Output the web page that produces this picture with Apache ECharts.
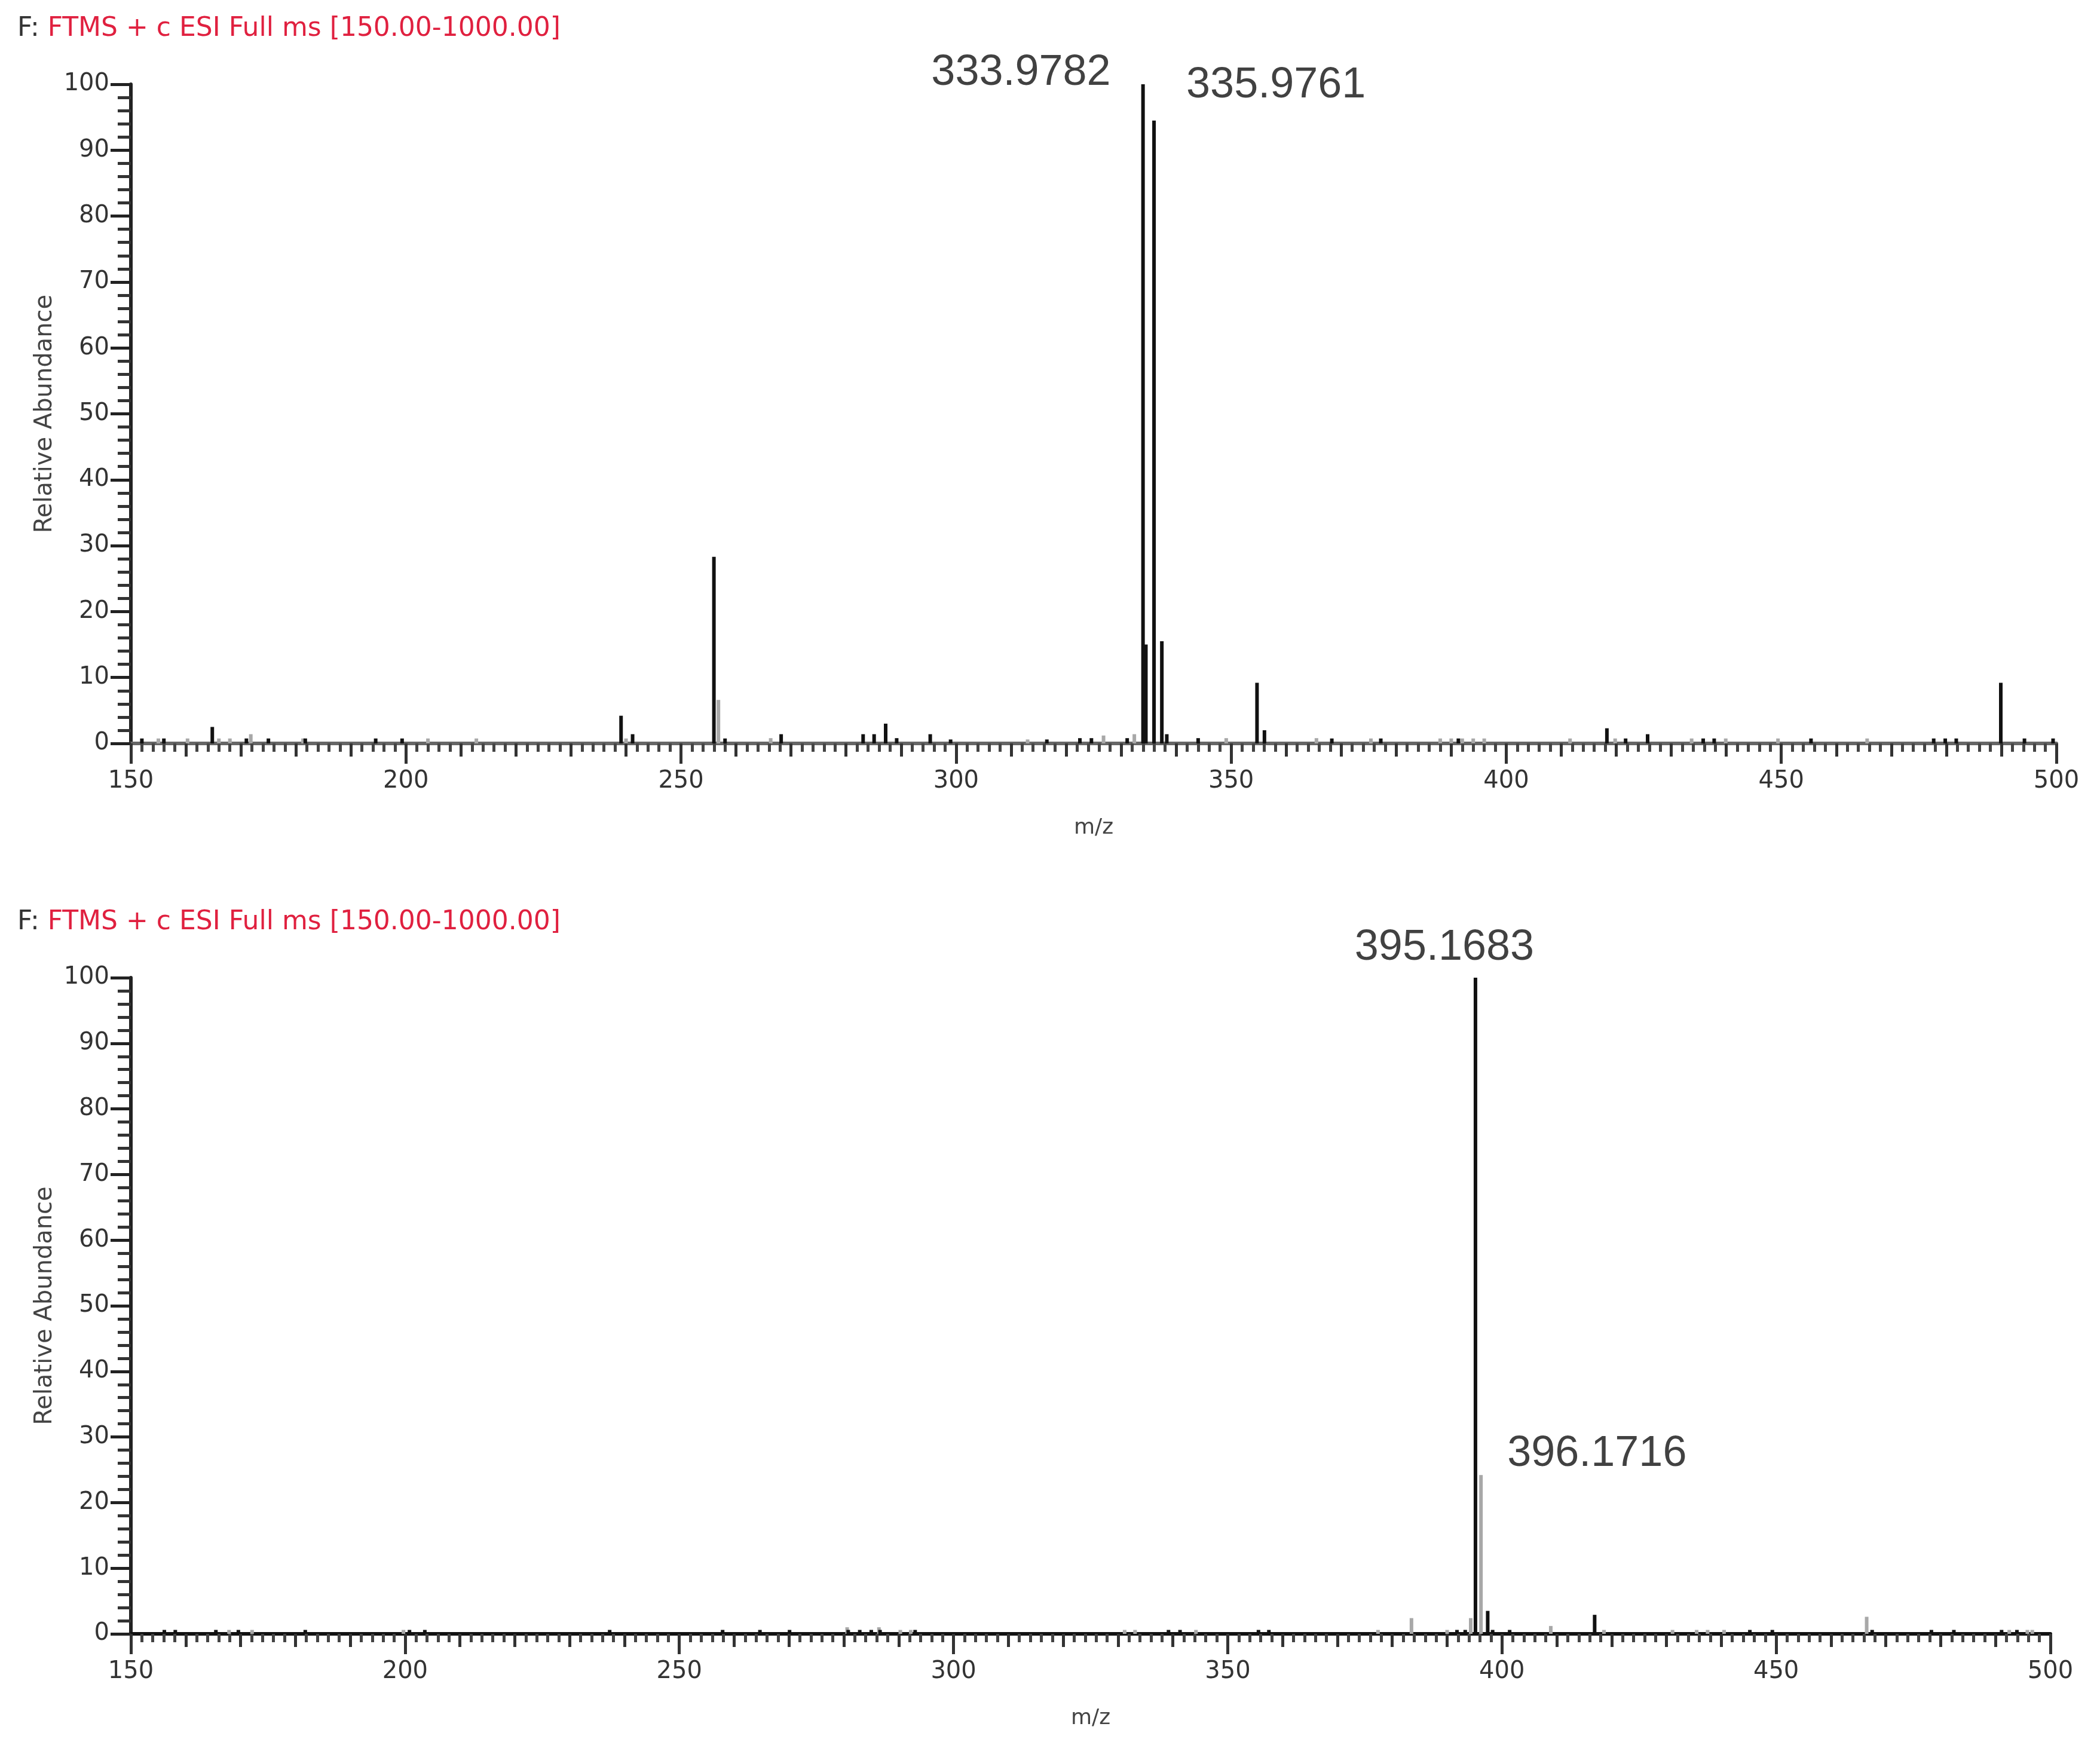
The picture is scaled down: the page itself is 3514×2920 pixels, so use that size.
<!DOCTYPE html>
<html>
<head>
<meta charset="UTF-8">
<title>FTMS + c ESI Full ms</title>
<script src="https://cdn.jsdelivr.net/npm/echarts@6/dist/echarts.min.js"></script>
<style>
    html, body { margin: 0; padding: 0; background: #fff; }
    #main { width: 3514px; height: 2920px; }
</style>
</head>
<body>
<div id="main"></div>
<script>
    // scan header shown above both spectra
    const scanTitle = 'FTMS + c ESI Full ms [150.00-1000.00]';
    const mzRange = [150, 500];
    const abRange = [0, 100];

    // top spectrum - dark sticks
    const mz1Dark = [152.0, 156.0, 164.8, 171.0, 175.0, 181.7, 194.5, 199.3, 239.1, 241.2,
        255.98, 258.0, 268.2, 283.1, 285.1, 287.2, 289.2, 295.3, 299.0, 316.5,
        322.5, 324.6, 331.1, 333.9782, 334.5, 335.9761, 337.4, 338.3, 344.0, 354.7,
        356.05, 368.3, 377.2, 391.3, 418.3, 421.7, 425.7, 435.8, 437.8, 455.4,
        477.7, 479.8, 481.8, 489.9, 494.2, 499.4];
    const ab1Dark = [0.75, 0.75, 2.5, 0.75, 0.75, 0.75, 0.75, 0.75, 4.2, 1.4,
        28.3, 0.75, 1.4, 1.4, 1.4, 3.0, 0.8, 1.4, 0.6, 0.6,
        0.8, 0.8, 0.8, 100, 15, 94.5, 15.5, 1.4, 0.8, 9.2,
        2.0, 0.75, 0.75, 0.75, 2.3, 0.75, 1.4, 0.75, 0.75, 0.75,
        0.75, 0.75, 0.75, 9.2, 0.75, 0.75];
    // top spectrum - grey sticks
    const mz1Light = [155.0, 160.3, 166.0, 168.0, 171.8, 181.3, 204.0, 212.8, 240.0, 256.8,
        266.3, 313.0, 326.8, 332.4, 349.1, 365.5, 375.4, 388.0, 390.0, 392.0,
        394.0, 396.0, 411.6, 419.8, 433.7, 439.9, 449.4, 465.6];
    const ab1Light = [0.75, 0.75, 0.75, 0.75, 1.4, 0.75, 0.75, 0.75, 0.75, 6.6,
        0.8, 0.6, 1.2, 1.4, 0.8, 0.8, 0.75, 0.75, 0.75, 0.75,
        0.75, 0.75, 0.75, 0.75, 0.75, 0.75, 0.75, 0.75];
    const mz1Labels = [333.9782, 335.9761];
    const ab1Labels = [100, 94.5];

    // bottom spectrum - dark sticks
    const mz2Dark = [156.1, 158.1, 165.5, 169.6, 181.8, 200.8, 203.6, 237.3, 257.9, 264.7,
        270.1, 280.8, 282.9, 285.0, 286.6, 293.0, 339.2, 341.3, 355.6, 357.5,
        391.8, 393.3, 395.1683, 397.4, 398.3, 401.4, 416.9, 445.2, 449.3, 467.5,
        478.3, 482.4, 491.1, 493.9];
    const ab2Dark = [0.6, 0.6, 0.6, 0.6, 0.6, 0.6, 0.6, 0.6, 0.6, 0.6,
        0.6, 0.6, 0.6, 0.6, 0.6, 0.6, 0.6, 0.6, 0.6, 0.6,
        0.6, 0.6, 100, 3.5, 0.6, 0.6, 2.9, 0.6, 0.6, 0.6,
        0.6, 0.6, 0.6, 0.6];
    // bottom spectrum - grey sticks
    const mz2Light = [167.9, 172.1, 199.7, 280.6, 286.4, 290.3, 292.2, 331.2, 333.1, 344.2,
        377.4, 383.5, 390.0, 394.3, 396.1716, 408.9, 418.6, 431.1, 435.5, 437.5,
        440.5, 466.5, 492.5, 495.8, 496.7];
    const ab2Light = [0.6, 0.6, 0.6, 1.0, 1.0, 0.6, 0.6, 0.6, 0.6, 0.6,
        0.6, 2.4, 0.6, 2.4, 24.2, 1.2, 0.6, 0.6, 0.6, 0.6,
        0.6, 2.6, 0.6, 0.6, 0.6];
    const mz2Labels = [395.1683, 396.1716];
    const ab2Labels = [100, 24.2];

    const tickFont = 'DejaVu Sans';
    const peakFont = 'Liberation Sans';

    function pairs(xs, ys) {
        return xs.map((x, i) => [x, ys[i]]);
    }

    function xAxes(g) {
        return [
            {
                type: 'value', gridIndex: g, min: mzRange[0], max: mzRange[1], interval: 50,
                position: 'bottom',
                name: 'm/z', nameLocation: 'middle', nameGap: 124,
                nameTextStyle: { fontSize: 36, color: '#444', fontFamily: tickFont },
                axisLine: { show: true, onZero: false, lineStyle: { color: g ? '#111' : '#666', width: 6 } },
                axisTick: { show: true, length: 34, lineStyle: { color: '#333', width: 5 } },
                minorTick: { show: true, splitNumber: 25, length: 14, lineStyle: { color: '#444', width: 5 } },
                splitLine: { show: false },
                minorSplitLine: { show: false },
                axisLabel: { margin: 44, fontSize: 40, color: '#333', fontFamily: tickFont }
            },
            {
                // medium ticks every 10
                type: 'value', gridIndex: g, min: mzRange[0], max: mzRange[1], interval: 10,
                position: 'bottom',
                axisLine: { show: false, onZero: false },
                axisLabel: { show: false },
                splitLine: { show: false },
                axisTick: { show: true, length: 22, lineStyle: { color: '#333', width: 5 } }
            }
        ];
    }

    function yAxis(g) {
        return {
            type: 'value', gridIndex: g, min: abRange[0], max: abRange[1], interval: 10,
            name: 'Relative Abundance', nameLocation: 'middle', nameGap: 122, nameRotate: 90,
            nameTextStyle: { fontSize: 40, color: '#444', fontFamily: tickFont },
            axisLine: { show: true, lineStyle: { color: '#222', width: 6 } },
            axisTick: { show: true, length: 34, lineStyle: { color: '#222', width: 5 } },
            minorTick: { show: true, splitNumber: 5, length: 22, lineStyle: { color: '#333', width: 5 } },
            splitLine: { show: false },
            axisLabel: { margin: 36, fontSize: 40, color: '#333', fontFamily: tickFont }
        };
    }

    function sticks(g, xs, ys, color, z) {
        return {
            type: 'bar', xAxisIndex: g * 2, yAxisIndex: g,
            data: pairs(xs, ys),
            barWidth: 6, barGap: '-100%',
            itemStyle: { color: color },
            silent: true, z: z, animation: false
        };
    }

    // label placement for each annotated peak
    function peakLabels(g, xs, ys, places) {
        return {
            type: 'scatter', xAxisIndex: g * 2, yAxisIndex: g,
            symbolSize: 0, silent: true, z: 5, animation: false,
            data: xs.map((x, i) => ({
                value: [x, ys[i]],
                label: places[i]
            })),
            label: {
                show: true,
                formatter: p => p.value[0].toFixed(4),
                fontSize: 72, color: '#111', fontFamily: peakFont
            }
        };
    }

    const chart = echarts.init(document.getElementById('main'));

    const titleRich = {
        k: { fontSize: 44, color: '#333', fontFamily: tickFont, fontWeight: 'normal' },
        r: { fontSize: 44, color: '#e0203f', fontFamily: tickFont, fontWeight: 'normal' }
    };
    const titleText = '{k|F: }{r|' + scanTitle + '}';

    const option = {
        backgroundColor: '#fff',
        animation: false,
        title: [
            { text: titleText, left: 24, top: 22, textStyle: { fontWeight: 'normal', rich: titleRich } },
            { text: titleText, left: 24, top: 1517, textStyle: { fontWeight: 'normal', rich: titleRich } }
        ],
        grid: [
            { left: 219, width: 3222, top: 141, height: 1103 },
            { left: 219, width: 3212, top: 1636, height: 1098 }
        ],
        xAxis: xAxes(0).concat(xAxes(1)),
        yAxis: [yAxis(0), yAxis(1)],
        series: [
            sticks(0, mz1Light, ab1Light, '#a8a8a8', 2),
            sticks(0, mz1Dark, ab1Dark, '#111', 3),
            sticks(1, mz2Light, ab2Light, '#a8a8a8', 2),
            sticks(1, mz2Dark, ab2Dark, '#111', 3),
            peakLabels(0, mz1Labels, ab1Labels, [
                { position: 'left', distance: 54, offset: [0, -19] },
                { position: 'right', distance: 54, offset: [0, -59] }
            ]),
            peakLabels(1, mz2Labels, ab2Labels, [
                { position: 'top', distance: 14, offset: [-52, 0] },
                { position: 'right', distance: 44, offset: [0, -35] }
            ])
        ]
    };
    chart.setOption(option);
</script>
</body>
</html>
